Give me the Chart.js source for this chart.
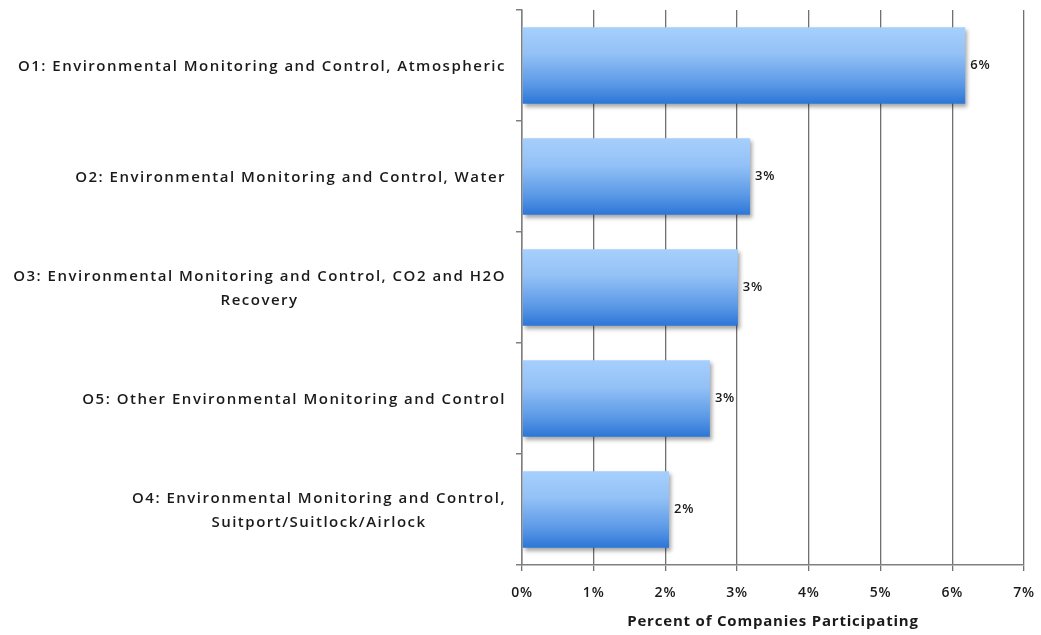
<!DOCTYPE html>
<html><head><meta charset="utf-8">
<script src="https://cdn.jsdelivr.net/npm/chart.js@4.4.0/dist/chart.umd.min.js"></script>
<style>html,body{margin:0;padding:0;background:#fff;}#wrap{width:1041px;height:635px;}</style>
</head><body><div id="wrap"><canvas id="c" width="1041" height="635"></canvas></div>
<script>
const categories = [
  ["O1: Environmental Monitoring and Control, Atmospheric"],
  ["O2: Environmental Monitoring and Control, Water"],
  ["O3: Environmental Monitoring and Control, CO2 and H2O", "Recovery"],
  ["O5: Other Environmental Monitoring and Control"],
  ["O4: Environmental Monitoring and Control,", "Suitport/Suitlock/Airlock"]
];
const percentParticipating = [6.18, 3.18, 3.01, 2.62, 2.05];
const xMin = 0, xMax = 7, xStep = 1;
const xAxisTitle = "Percent of Companies Participating";

const TEXT = '#1a1a1a';
const FONT = "'Open Sans', 'Liberation Sans', sans-serif";

const spacing = {
  id: 'spacing',
  beforeLayout(chart) { try { chart.ctx.letterSpacing = '0.8px'; } catch (e) {} },
  beforeDraw(chart) { try { chart.ctx.letterSpacing = '0.8px'; } catch (e) {} }
};

const barStyle = {
  id: 'barStyle',
  beforeDatasetsDraw(chart) {
    const ctx = chart.ctx;
    chart.getDatasetMeta(0).data.forEach(el => {
      const t = el.y - el.height / 2, b = el.y + el.height / 2;
      const g = ctx.createLinearGradient(0, t, 0, b);
      g.addColorStop(0, '#a6cffc');
      g.addColorStop(0.35, '#93c1f6');
      g.addColorStop(0.75, '#5a98e6');
      g.addColorStop(1, '#2c76d7');
      el.options = Object.assign({}, el.options, { backgroundColor: g });
    });
    ctx.save();
    ctx.shadowColor = 'rgba(0,0,0,0.35)';
    ctx.shadowOffsetX = 2;
    ctx.shadowOffsetY = 3;
    ctx.shadowBlur = 4;
  },
  afterDatasetsDraw(chart) {
    const ctx = chart.ctx;
    ctx.restore();
    ctx.save();
    ctx.font = "600 13px " + FONT;
    ctx.fillStyle = TEXT;
    ctx.textAlign = 'left';
    ctx.textBaseline = 'middle';
    const ds = chart.data.datasets[0];
    chart.getDatasetMeta(0).data.forEach((el, i) => {
      ctx.fillText(Math.round(ds.data[i]) + '%', el.x + 5, el.y);
    });
    ctx.restore();
  }
};

const catLabels = {
  id: 'catLabels',
  afterDraw(chart) {
    const ctx = chart.ctx;
    const ys = chart.scales.y;
    ctx.save();
    ctx.font = "600 15px " + FONT;
    ctx.fillStyle = TEXT;
    ctx.textAlign = 'center';
    ctx.textBaseline = 'middle';
    try { ctx.letterSpacing = '1.5px'; } catch (e) {}
    const right = ys.right - 16;
    const lh = 24;
    chart.data.labels.forEach((lines, i) => {
      const y = ys.getPixelForTick(i) + 1;
      const maxW = Math.max(...lines.map(l => ctx.measureText(l).width));
      const cx = right - maxW / 2;
      const y0 = y - (lines.length - 1) * lh / 2;
      lines.forEach((l, k) => ctx.fillText(l, cx, y0 + k * lh));
    });
    ctx.restore();
  }
};

new Chart(document.getElementById('c'), {
  type: 'bar',
  data: {
    labels: categories,
    datasets: [{
      data: percentParticipating,
      backgroundColor: '#6aa6ee',
      borderWidth: 0,
      categoryPercentage: 1,
      barPercentage: 0.69
    }]
  },
  options: {
    indexAxis: 'y',
    responsive: false,
    animation: false,
    devicePixelRatio: 1,
    layout: { padding: { top: 10, right: 17, left: 0, bottom: 0 } },
    plugins: { legend: { display: false }, tooltip: { enabled: false } },
    scales: {
      x: {
        min: xMin, max: xMax,
        ticks: { stepSize: xStep, callback: v => v + '%', color: TEXT, font: { family: FONT, size: 14, weight: '600' }, padding: 14 },
        grid: { color: '#707070', lineWidth: 1.3, tickLength: 6 },
        border: { color: '#808080', width: 1.5 },
        title: { display: true, text: xAxisTitle, color: TEXT, font: { family: FONT, size: 15, weight: 'bold' }, padding: { top: 2 } },
        afterFit: s => { s.height = 70; s.paddingRight = 0; s.paddingLeft = 0; }
      },
      y: {
        ticks: { display: false },
        grid: { drawOnChartArea: false, color: '#808080', tickLength: 6, lineWidth: 1.5 },
        border: { color: '#808080', width: 1.5 },
        afterFit: s => { s.width = 522; s.paddingTop = 0; s.paddingBottom = 0; }
      }
    }
  },
  plugins: [spacing, barStyle, catLabels]
});
</script>
</body></html>
